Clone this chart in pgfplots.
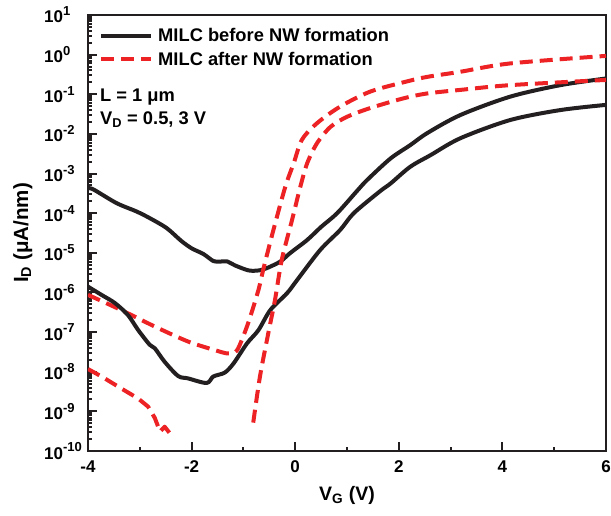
\documentclass[border=0pt]{standalone}
\usepackage{fontspec}
\setmainfont{Liberation Sans}
\usepackage{pgfplots}
\pgfplotsset{compat=1.18}
\definecolor{myred}{RGB}{237,34,36}
\definecolor{myblack}{RGB}{35,31,32}
\newcommand{\ex}[1]{10\raisebox{0.42em}{\fontsize{13}{13}\selectfont #1}}
\begin{document}
\begin{tikzpicture}[x=1pt,y=1pt]
\useasboundingbox (0,0) rectangle (611,515);
\begin{axis}[
  at={(88pt,64pt)}, anchor=south west,
  width=518pt, height=436pt, scale only axis,
  xmin=-4, xmax=6, ymin=1e-10, ymax=10, ymode=log,
  xtick={-4,-2,0,2,4,6}, xticklabels={-4,-2,0,2,4,6},
  minor xtick={-3,-1,1,3,5},
  ytick={1e-10,1e-9,1e-8,1e-7,1e-6,1e-5,1e-4,1e-3,1e-2,1e-1,1e0,1e1},
  yticklabels={\ex{-10},\ex{-9},\ex{-8},\ex{-7},\ex{-6},\ex{-5},\ex{-4},\ex{-3},\ex{-2},\ex{-1},\ex{0},\ex{1}},
  minor ytick={2e-10,3e-10,4e-10,5e-10,6e-10,7e-10,8e-10,9e-10,
    2e-9,3e-9,4e-9,5e-9,6e-9,7e-9,8e-9,9e-9,
    2e-8,3e-8,4e-8,5e-8,6e-8,7e-8,8e-8,9e-8,
    2e-7,3e-7,4e-7,5e-7,6e-7,7e-7,8e-7,9e-7,
    2e-6,3e-6,4e-6,5e-6,6e-6,7e-6,8e-6,9e-6,
    2e-5,3e-5,4e-5,5e-5,6e-5,7e-5,8e-5,9e-5,
    2e-4,3e-4,4e-4,5e-4,6e-4,7e-4,8e-4,9e-4,
    2e-3,3e-3,4e-3,5e-3,6e-3,7e-3,8e-3,9e-3,
    2e-2,3e-2,4e-2,5e-2,6e-2,7e-2,8e-2,9e-2,
    2e-1,3e-1,4e-1,5e-1,6e-1,7e-1,8e-1,9e-1,
    2e0,3e0,4e0,5e0,6e0,7e0,8e0,9e0},
  xtick pos=bottom, ytick pos=left,
  tick align=inside,
  major tick length=9pt, minor tick length=4.5pt,
  every tick/.style={myblack, line width=2pt},
  axis line style={line width=2.5pt, myblack},
  every axis/.append style={line width=2.5pt},
  xticklabel style={font=\fontsize{17}{19}\selectfont\bfseries, yshift=-5pt},
  yticklabel style={font=\fontsize{17}{19}\selectfont\bfseries, anchor=west, inner xsep=0pt, xshift=-45pt},
  xlabel={V\textsubscript{G} (V)},
  ylabel={I\textsubscript{D} (μA/nm)},
  xlabel style={at={(axis description cs:0.5,0)}, anchor=base, yshift=-49pt, inner sep=0pt, font=\fontsize{19.5}{22}\selectfont\bfseries},
  ylabel style={at={(axis description cs:-0.1158,0.5)}, anchor=base, inner sep=0pt, font=\fontsize{20.5}{22}\selectfont\bfseries},
  legend style={at={(axis description cs:0.0193,0.977)}, anchor=north west, draw=none, fill=none,
    font=\fontsize{18.3}{20}\selectfont\bfseries, row sep=5pt, inner sep=0pt,
    /tikz/every odd column/.append style={column sep=3pt}},
  legend cell align=left,
  legend image code/.code={\draw[#1] (0pt,0pt) -- (50pt,0pt);},
]
% before NW formation, V_D = 3 V
\addplot[myblack, line width=4pt, line join=round, smooth, tension=0.5] coordinates {
(-4.0,4.2e-4) (-3.9,4.0e-4) (-3.45,1.8e-4) (-3.06,1.1e-4) (-2.8,7.4e-5) (-2.48,4.2e-5) (-2.2,2.0e-5) (-2.0,1.3e-5) (-1.77,9.3e-6) (-1.58,6.2e-6) (-1.45,6.0e-6) (-1.32,6.1e-6) (-1.16,4.8e-6) (-0.9,3.6e-6) (-0.7,3.6e-6) (-0.55,4.1e-6) (-0.29,6.0e-6) (-0.1,9.8e-6) (0.23,2.1e-5) (0.5,4.5e-5) (0.81,1.0e-4) (1.19,3.6e-4) (1.39,6.9e-4) (1.84,2.4e-3) (2.22,5.2e-3) (2.55,1.05e-2) (3.19,3.0e-2) (4.15,8.7e-2) (5.12,0.17) (6.0,0.25)
};
\addlegendentry{MILC before NW formation}
% after NW formation, V_D = 3 V
\addplot[myred, line width=4pt, dash pattern=on 13pt off 7pt, line join=round, smooth, tension=0.5] coordinates {
(-4.0,8.7e-7) (-3.36,3.6e-7) (-2.71,1.38e-7) (-2.07,5.8e-8) (-1.55,3.5e-8) (-1.32,2.9e-8) (-1.2,3.0e-8) (-1.1,3.9e-8) (-0.91,1.66e-7) (-0.71,1.15e-6) (-0.61,4.1e-6) (-0.42,3.8e-5) (-0.19,4.7e-4) (-0.03,1.8e-3) (0.13,7.1e-3) (0.42,1.86e-2) (0.87,4.9e-2) (1.45,0.117) (2.15,0.21) (2.55,0.275) (3.19,0.37) (4.15,0.60) (6.0,0.93)
};
\addlegendentry{MILC after NW formation}
% before NW formation, V_D = 0.5 V
\addplot[myblack, line width=4pt, line join=round, smooth, tension=0.5, forget plot] coordinates {
(-4.0,1.4e-6) (-3.74,8.7e-7) (-3.48,5.4e-7) (-3.23,2.7e-7) (-3.03,1.12e-7) (-2.81,4.8e-8) (-2.71,3.9e-8) (-2.52,1.78e-8) (-2.26,7.8e-9) (-2.07,6.8e-9) (-1.71,5.2e-9) (-1.58,7.6e-9) (-1.36,9.5e-9) (-1.19,1.62e-8) (-0.93,5.2e-8) (-0.71,1.12e-7) (-0.48,3.6e-7) (-0.16,9.5e-7) (0.03,2.0e-6) (0.48,1.17e-5) (0.87,3.8e-5) (1.13,1.0e-4) (1.64,3.6e-4) (1.84,5.6e-4) (2.22,1.48e-3) (2.61,2.9e-3) (3.19,7.8e-3) (4.15,2.24e-2) (5.12,4.0e-2) (6.0,5.4e-2)
};
% after NW formation, V_D = 0.5 V (left part)
\addplot[myred, line width=4pt, dash pattern=on 13pt off 7pt, line join=round, forget plot] coordinates {
(-4.0,1.17e-8) (-3.74,7.6e-9) (-3.36,3.8e-9) (-3.03,2.1e-9) (-2.84,1.32e-9) (-2.71,6.8e-10) (-2.61,3.1e-10) (-2.52,4.1e-10) (-2.39,2.5e-10)
};
% after NW formation, V_D = 0.5 V (right part)
\addplot[myred, line width=4pt, dash pattern=on 13pt off 7pt, line join=round, smooth, tension=0.5, forget plot] coordinates {
(-0.81,5.2e-10) (-0.68,7.6e-9) (-0.52,9.3e-8) (-0.39,6.5e-7) (-0.26,6.6e-6) (-0.06,6.8e-5) (0.1,4.7e-4) (0.23,1.8e-3) (0.42,5.8e-3) (0.68,1.5e-2) (1.0,2.7e-2) (1.45,4.5e-2) (2.09,7.9e-2) (2.55,0.105) (3.19,0.129) (4.15,0.17) (6.0,0.23)
};
\end{axis}
\node[anchor=base west, inner sep=0pt, font=\fontsize{18.3}{20}\selectfont\bfseries] at (100,413) {L = 1 μm};
\node[anchor=base west, inner sep=0pt, font=\fontsize{18.3}{20}\selectfont\bfseries] at (100,390) {V\textsubscript{D} = 0.5, 3 V};
\end{tikzpicture}
\end{document}
